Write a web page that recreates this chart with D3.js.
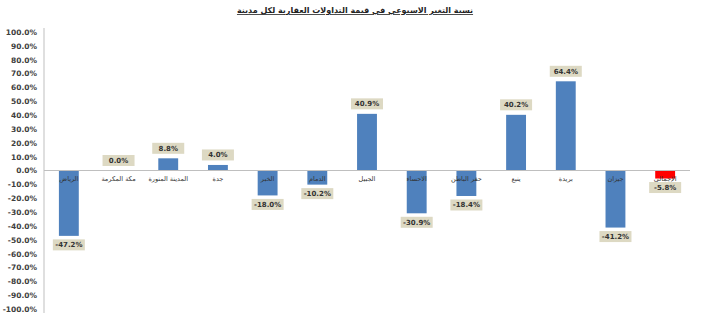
<!DOCTYPE html>
<html>
<head>
<meta charset="utf-8">
<script src="https://cdn.jsdelivr.net/npm/d3@7"></script>
<style>
  body { margin: 0; background: #fff; }
  svg { display: block; font-family: "DejaVu Sans", Arial, sans-serif; }
</style>
</head>
<body>
<div id="chart"></div>
<script>
const cities = ['الرياض', 'مكة المكرمة', 'المدينة المنورة', 'جدة', 'الخبر', 'الدمام', 'الجبيل', 'الاحساء', 'حفر الباطن', 'ينبع', 'بريدة', 'جيزان', 'الإجمالي'];
const changes = [-47.2, 0.0, 8.8, 4.0, -18.0, -10.2, 40.9, -30.9, -18.4, 40.2, 64.4, -41.2, -5.8];
const yTicks = [100, 90, 80, 70, 60, 50, 40, 30, 20, 10, 0, -10, -20, -30, -40, -50, -60, -70, -80, -90, -100];
const title = 'نسبة التغير الاسبوعي في قيمة التداولات العقارية لكل مدينة';

const W = 703, H = 326;
const m = { left: 44, right: 13, top: 32, bottom: 17 };

const svg = d3.select('#chart').append('svg').attr('width', W).attr('height', H);

const x = d3.scaleBand().domain(cities).range([m.left, W - m.right]).paddingInner(0.6).paddingOuter(0.3);
const y = d3.scaleLinear().domain([-100, 100]).range([H - m.bottom, m.top]);

// title
svg.append('text')
  .attr('x', 355).attr('y', 13)
  .attr('text-anchor', 'middle')
  .attr('direction', 'rtl')
  .attr('font-size', 8).attr('font-weight', 700)
  .attr('fill', '#222')
  .attr('text-decoration', 'underline')
  .text(title);

// y axis
const yAxis = svg.append('g')
  .attr('transform', `translate(${m.left},0)`)
  .call(d3.axisLeft(y).tickValues(yTicks).tickSize(0).tickPadding(7).tickFormat(d => d.toFixed(1) + '%'));
yAxis.select('.domain').attr('stroke', '#bfbfbf').attr('d', `M0,${y(100) - 4}V${y(-100) + 4}`);
yAxis.selectAll('text').attr('font-size', 7.5).attr('font-weight', 700).attr('fill', '#404040')
  .attr('font-family', '"DejaVu Sans", Arial, sans-serif');

// bars
svg.append('g').selectAll('rect')
  .data(cities)
  .join('rect')
  .attr('x', d => x(d))
  .attr('width', x.bandwidth())
  .attr('y', (d, i) => y(Math.max(0, changes[i])))
  .attr('height', (d, i) => Math.abs(y(changes[i]) - y(0)))
  .attr('fill', (d, i) => i === cities.length - 1 ? '#ff0000' : '#4f81bd');

// zero line
svg.append('line')
  .attr('x1', m.left).attr('x2', W - m.right)
  .attr('y1', y(0)).attr('y2', y(0))
  .attr('stroke', '#bfbfbf');

// category labels
svg.append('g').selectAll('text')
  .data(cities)
  .join('text')
  .attr('x', d => x(d) + x.bandwidth() / 2)
  .attr('y', y(0) + 10)
  .attr('text-anchor', 'middle')
  .attr('direction', 'rtl')
  .attr('font-size', 6.5)
  .attr('fill', '#333')
  .text(d => d);

// value labels
const lbl = svg.append('g').selectAll('g')
  .data(cities)
  .join('g')
  .attr('transform', (d, i) => {
    const v = changes[i];
    const cy = v >= 0 ? y(v) - 10 : y(v) + 9;
    return `translate(${x(d) + x.bandwidth() / 2},${cy})`;
  });
lbl.append('rect')
  .attr('x', -16).attr('y', -5.5)
  .attr('width', 32).attr('height', 11)
  .attr('fill', '#ddd9c3');
lbl.append('text')
  .attr('text-anchor', 'middle')
  .attr('dy', '0.35em')
  .attr('font-size', 7).attr('font-weight', 700)
  .attr('fill', '#333')
  .text((d, i) => changes[i].toFixed(1) + '%');
</script>
</body>
</html>
